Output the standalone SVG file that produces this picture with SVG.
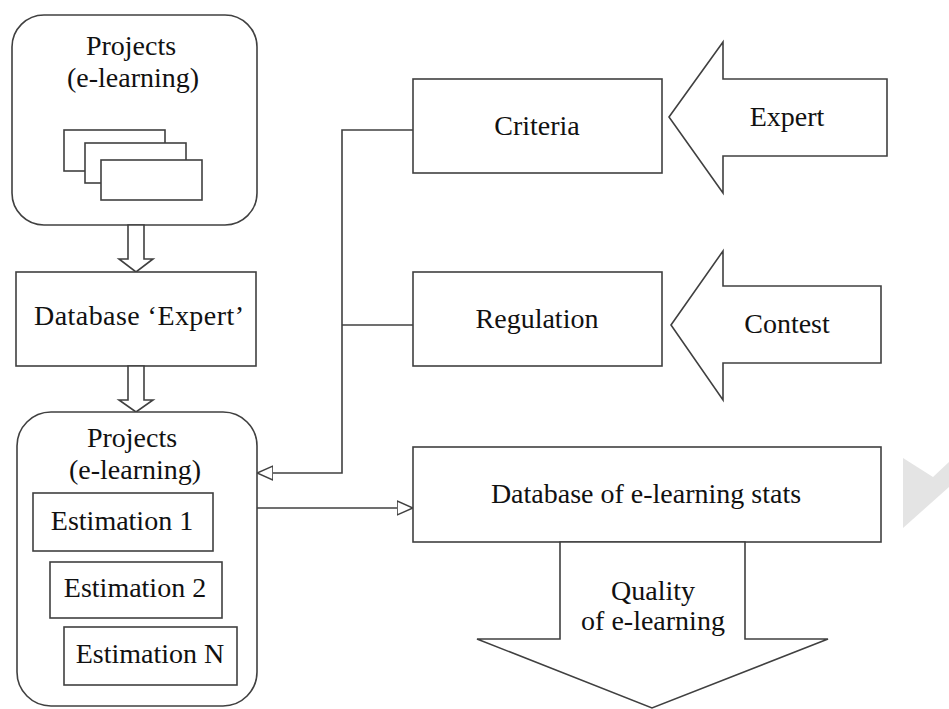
<svg xmlns="http://www.w3.org/2000/svg" width="949" height="709" viewBox="0 0 949 709">
<style>
.s{fill:#fff;stroke:#404040;stroke-width:1.6}
.l{fill:none;stroke:#404040;stroke-width:1.6}
.t{font-family:"Liberation Serif","Times New Roman",serif;font-size:28px;fill:#111;text-anchor:middle}
</style>
<defs>
<marker id="ah" viewBox="0 0 16 16" refX="16" refY="8" markerWidth="16" markerHeight="16" markerUnits="userSpaceOnUse" orient="auto">
<path d="M0,1 L16,8 L0,15 Z" fill="#fff" stroke="#404040" stroke-width="1.6"/>
</marker>
</defs>
<rect width="949" height="709" fill="#fff"/>
<polygon points="903,458 933,477 949,462 949,487 903,528" fill="#e4e4e4"/>

<g id="projects-top">
<rect class="s" x="12" y="15" width="245" height="210" rx="32"/>
<text class="t" x="131" y="55">Projects</text>
<text class="t" x="133" y="87">(e-learning)</text>
<rect class="s" x="64" y="130" width="101" height="41"/>
<rect class="s" x="85" y="143" width="101" height="40"/>
<rect class="s" x="101" y="160" width="101" height="40"/>
</g>

<g id="arrow-down-1">
<path class="s" d="M128,225 L144,225 L144,259 L153,259 L136,272 L119,259 L128,259 Z"/>
</g>

<g id="database-expert">
<rect class="s" x="16" y="272" width="240" height="94"/>
<text class="t" x="139" y="325" textLength="210" lengthAdjust="spacing">Database ‘Expert’</text>
</g>

<g id="arrow-down-2">
<path class="s" d="M128,366 L144,366 L144,400 L153,400 L136,412 L119,400 L128,400 Z"/>
</g>

<g id="projects-bottom">
<rect class="s" x="17" y="412" width="240" height="294" rx="34"/>
<text class="t" x="132" y="447">Projects</text>
<text class="t" x="135" y="479">(e-learning)</text>
<rect class="s" x="33" y="493" width="180" height="58"/>
<text class="t" x="122" y="530">Estimation 1</text>
<rect class="s" x="50" y="562" width="172" height="56"/>
<text class="t" x="135" y="597">Estimation 2</text>
<rect class="s" x="64" y="627" width="173" height="58"/>
<text class="t" x="150" y="663">Estimation N</text>
</g>

<g id="criteria">
<rect class="s" x="413" y="79" width="249" height="94"/>
<text class="t" x="537" y="135">Criteria</text>
</g>

<g id="regulation">
<rect class="s" x="413" y="272" width="249" height="94"/>
<text class="t" x="537" y="328">Regulation</text>
</g>

<g id="expert">
<path class="s" d="M669,117 L723,42 L723,79 L887,79 L887,156 L723,156 L723,193 Z"/>
<text class="t" x="787" y="126">Expert</text>
</g>

<g id="contest">
<path class="s" d="M671,325 L723,251 L723,286 L881,286 L881,363 L723,363 L723,400 Z"/>
<text class="t" x="787" y="333">Contest</text>
</g>

<g id="database-stats">
<rect class="s" x="413" y="447" width="468" height="95"/>
<text class="t" x="646" y="503">Database of e-learning stats</text>
</g>

<g id="quality">
<path class="s" d="M560,542 L745,542 L745,639 L828,639 L652,708 L477,639 L560,639 Z"/>
<text class="t" x="653" y="600">Quality</text>
<text class="t" x="653" y="630">of e-learning</text>
</g>

<g id="connectors">
<path class="l" d="M413,130 L342,130 L342,473 L257,473" marker-end="url(#ah)"/>
<path class="l" d="M413,325 L342,325"/>
<path class="l" d="M257,508 L413,508" marker-end="url(#ah)"/>
</g>
</svg>
